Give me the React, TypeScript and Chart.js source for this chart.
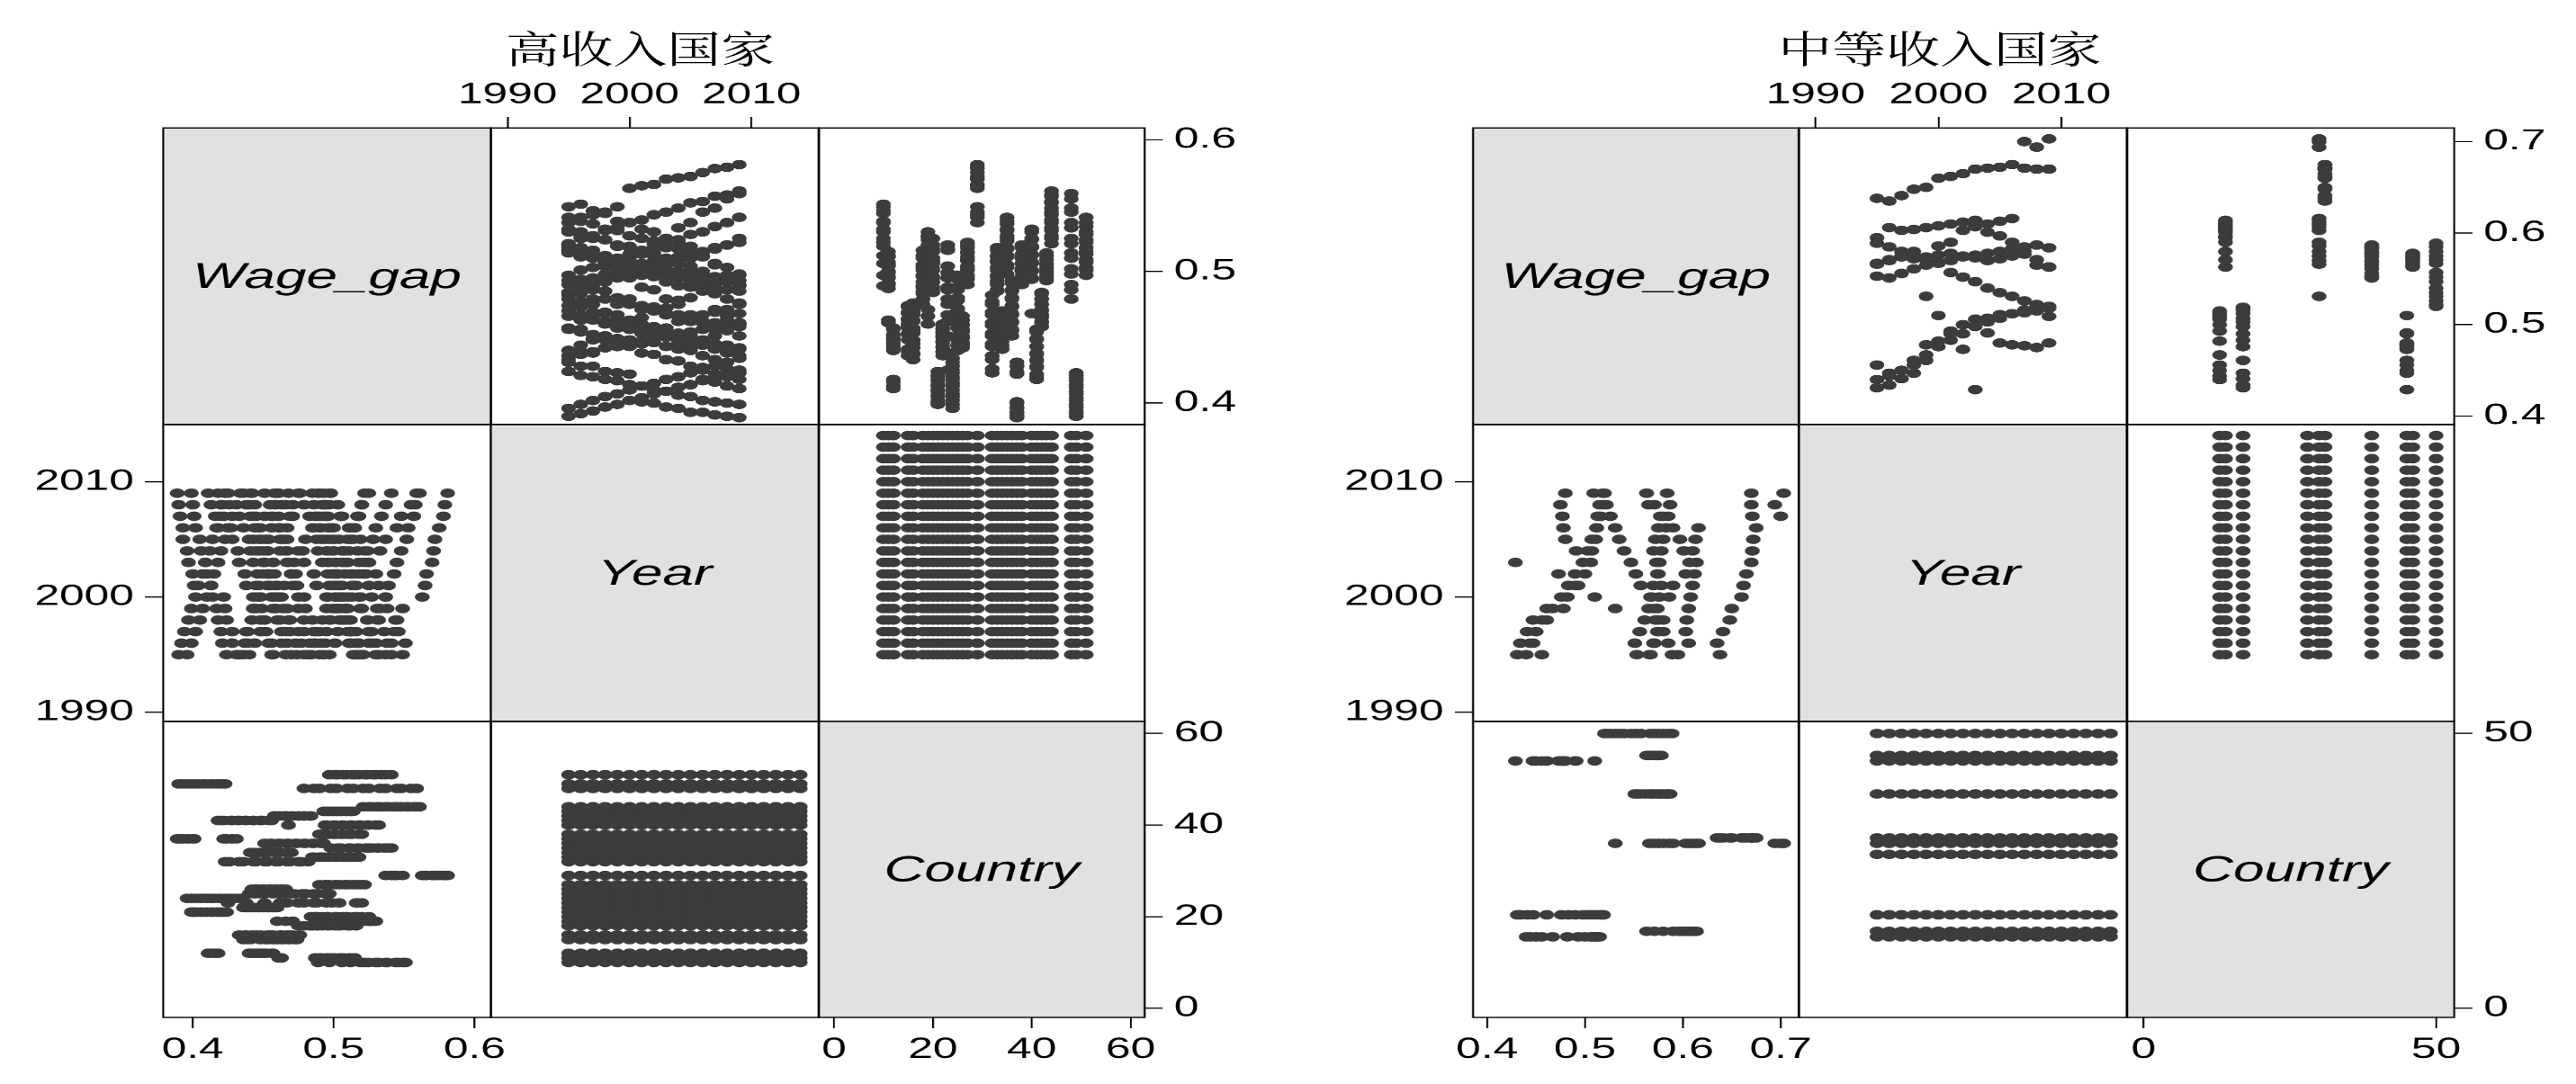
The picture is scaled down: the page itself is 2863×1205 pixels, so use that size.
import React, { useEffect, useRef } from 'react';
import { Chart, registerables } from 'chart.js';

Chart.register(...registerables);

// ---------- data ----------
const YEARS_ALL = [1995, 1996, 1997, 1998, 1999, 2000, 2001, 2002, 2003, 2004, 2005, 2006, 2007, 2008, 2009, 2010, 2011, 2012, 2013, 2014];
const WAGE_YEARS = [1995, 1996, 1997, 1998, 1999, 2000, 2001, 2002, 2003, 2004, 2005, 2006, 2007, 2008, 2009];

// 高收入国家 : country ids and wage gap per year (1995-2009)
const HI_IDS = [10, 11, 12, 15, 16, 18, 19, 20, 21, 22, 23, 24, 25, 26, 27, 29, 32, 33, 34, 35, 36, 37, 38, 40, 41, 42, 43, 44, 48, 49, 51];
const hi10 = [0.549, 0.551, 0.546, 0.544, 0.538, 0.537, 0.532, 0.53, 0.525, 0.522, 0.519, 0.512, 0.506, 0.497, 0.489];
const hi11 = [0.515, 0.511, 0.512, 0.507, 0.505, 0.504, 0.5, 0.499, 0.496, 0.495, 0.491, 0.49, 0.487, 0.463, 0.461];
const hi12 = [0.457, 0.456, 0.452, 0.451, 0.449, 0.448, 0.445, 0.446, 0.443, 0.441, 0.44, 0.418, 0.416, 0.413, 0.411];
const hi15 = [0.474, 0.473, 0.469, 0.468, 0.464, 0.463, 0.46, 0.458, 0.457, 0.453, 0.452, 0.448, 0.441, 0.439, 0.436];
const hi16 = [0.433, 0.437, 0.438, 0.442, 0.445, 0.448, 0.453, 0.455, 0.457, 0.462, 0.463, 0.467, 0.469, 0.471, 0.476];
const hi18 = [0.516, 0.512, 0.51, 0.505, 0.503, 0.501, 0.497, 0.496, 0.492, 0.489, 0.488, 0.485, 0.483, 0.479, 0.475];
const hi19 = [0.53, 0.527, 0.526, 0.524, 0.52, 0.519, 0.516, 0.514, 0.51, 0.507, 0.504, 0.498, 0.471, 0.466, 0.46];
const hi20 = [0.484, 0.487, 0.488, 0.492, 0.495, 0.496, 0.501, 0.502, 0.506, 0.508, 0.51, 0.515, 0.517, 0.52, 0.525];
const hi21 = [0.424, 0.421, 0.42, 0.418, 0.417, 0.414, 0.413, 0.41, 0.409, 0.406, 0.405, 0.402, 0.401, 0.4, 0.399];
const hi22 = [0.436, 0.439, 0.439, 0.442, 0.443, 0.446, 0.447, 0.45, 0.451, 0.453, 0.454, 0.456, 0.457, 0.459, 0.46];
const hi23 = [0.52, 0.517, 0.516, 0.504, 0.499, 0.495, 0.488, 0.486, 0.479, 0.475, 0.467, 0.462, 0.451, 0.438, 0.425];
const hi24 = [0.396, 0.399, 0.402, 0.405, 0.407, 0.41, 0.413, 0.415, 0.418, 0.42, 0.423, 0.425, 0.428, 0.431, 0.434];
const hi25 = [0.44, 0.444, 0.448, 0.451, 0.457, 0.461, 0.465, 0.47, 0.472, 0.478, 0.48, 0.486, 0.488, 0.494, 0.497];
const hi26 = [0.466, 0.463, 0.463, 0.46, 0.459, 0.456, 0.455, 0.454, 0.451, 0.45, 0.449, 0.446, 0.445, 0.444, 0.442];
const hi27 = [0.49, 0.494, 0.495, 0.497, 0.501, 0.502, 0.504, 0.508, 0.509, 0.511, 0.514, 0.515, 0.518, 0.52, 0.522];
const hi29 = [0.537, 0.541, 0.543, 0.545, 0.549, 0.563, 0.565, 0.566, 0.57, 0.571, 0.572, 0.575, 0.578, 0.579, 0.581];
const hi32 = [0.482, 0.477, 0.475, 0.469, 0.467, 0.461, 0.459, 0.453, 0.451, 0.445, 0.443, 0.436, 0.433, 0.426, 0.423];
const hi33 = [0.518, 0.516, 0.512, 0.511, 0.508, 0.507, 0.503, 0.501, 0.497, 0.496, 0.493, 0.491, 0.49, 0.486, 0.485];
const hi34 = [0.47, 0.467, 0.466, 0.462, 0.459, 0.458, 0.454, 0.453, 0.45, 0.447, 0.447, 0.444, 0.443, 0.441, 0.441];
const hi35 = [0.541, 0.538, 0.536, 0.532, 0.531, 0.527, 0.525, 0.523, 0.518, 0.517, 0.512, 0.511, 0.505, 0.503, 0.498];
const hi36 = [0.493, 0.491, 0.486, 0.485, 0.48, 0.479, 0.474, 0.473, 0.468, 0.467, 0.462, 0.461, 0.456, 0.455, 0.451];
const hi37 = [0.431, 0.428, 0.428, 0.424, 0.423, 0.422, 0.401, 0.4, 0.397, 0.396, 0.393, 0.393, 0.391, 0.39, 0.389];
const hi38 = [0.52, 0.518, 0.513, 0.512, 0.51, 0.506, 0.506, 0.502, 0.501, 0.5, 0.496, 0.496, 0.493, 0.492, 0.49];
const hi40 = [0.532, 0.53, 0.525, 0.524, 0.519, 0.518, 0.513, 0.512, 0.507, 0.506, 0.501, 0.5, 0.495, 0.494, 0.468];
const hi41 = [0.456, 0.454, 0.449, 0.448, 0.443, 0.443, 0.438, 0.437, 0.433, 0.432, 0.428, 0.427, 0.422, 0.42, 0.418];
const hi42 = [0.484, 0.483, 0.479, 0.479, 0.475, 0.475, 0.471, 0.47, 0.467, 0.466, 0.465, 0.462, 0.461, 0.458, 0.458];
const hi43 = [0.514, 0.512, 0.512, 0.509, 0.509, 0.506, 0.505, 0.503, 0.502, 0.5, 0.499, 0.497, 0.496, 0.494, 0.493];
const hi44 = [0.521, 0.525, 0.527, 0.531, 0.533, 0.537, 0.539, 0.543, 0.545, 0.548, 0.552, 0.553, 0.557, 0.558, 0.561];
const hi48 = [0.479, 0.486, 0.49, 0.498, 0.502, 0.51, 0.514, 0.521, 0.525, 0.533, 0.537, 0.545, 0.548, 0.555, 0.559];
const hi49 = [0.39, 0.392, 0.394, 0.397, 0.399, 0.402, 0.404, 0.407, 0.409, 0.412, 0.414, 0.417, 0.419, 0.421, 0.423];
const hi51 = [0.497, 0.501, 0.503, 0.507, 0.509, 0.513, 0.515, 0.518, 0.522, 0.524, 0.528, 0.53, 0.534, 0.537, 0.541];
const HI_GAPS = [hi10, hi11, hi12, hi15, hi16, hi18, hi19, hi20, hi21, hi22, hi23, hi24, hi25, hi26, hi27, hi29, hi32, hi33, hi34, hi35, hi36, hi37, hi38, hi40, hi41, hi42, hi43, hi44, hi48, hi49, hi51];

// 中等收入国家
const MID_IDS = [13, 14, 17, 28, 30, 31, 39, 45, 46, 50];
const mid13 = [0.44, 0.444, 0.45, 0.456, 0.467, 0.482, 0.493, 0.5, 0.506, 0.507, 0.511, 0.512, 0.513, 0.515, 0.509];
const mid14 = [0.595, 0.606, 0.603, 0.604, 0.606, 0.608, 0.61, 0.612, 0.614, 0.601, 0.597, 0.59, 0.58, 0.571, 0.563];
const mid17 = [0.431, 0.434, 0.441, 0.447, 0.461, 0.476, 0.483, 0.49, 0.498, 0.503, 0.507, 0.512, 0.516, 0.519, 0.518];
const mid28: number[] = [];
const mid30 = [0.566, 0.57, 0.575, 0.58, 0.531, 0.586, 0.59, 0.603, 0.607, 0.61, 0.613, 0.616, 0.7, 0.694, 0.703];
const mid31 = [0.638, 0.635, 0.641, 0.648, 0.65, 0.66, 0.662, 0.665, 0.67, 0.671, 0.672, 0.675, 0.671, 0.67, 0.67];
const mid39 = [0.553, 0.551, 0.556, 0.561, 0.565, 0.568, 0.57, 0.574, 0.576, 0.578, 0.58, 0.583, 0.585, 0.587, 0.584];
const mid45 = [0.456, 0.447, 0.45, 0.461, 0.478, 0.51, 0.49, 0.473, 0.429, 0.491, 0.48, 0.478, 0.477, 0.475, 0.48];
const mid46 = [0.567, 0.571, 0.574, 0.572, 0.574, 0.576, 0.578, 0.575, 0.573, 0.57, 0.572, 0.575, 0.577, 0.565, 0.563];
const mid50 = [0.589, 0.585, 0.58, 0.575, 0.571, 0.567, 0.557, 0.552, 0.547, 0.54, 0.535, 0.531, 0.526, 0.522, 0.52];
const MID_GAPS = [mid13, mid14, mid17, mid28, mid30, mid31, mid39, mid45, mid46, mid50];

const VAR_LABELS = ['Wage_gap', 'Year', 'Country'];
const TITLE_HI = '高收入国家';
const TITLE_MID = '中等收入国家';

// axis limits [wage, year, country]
const HI_XR: [number, number][] = [[0.379, 0.6117], [1988.63, 2015.51], [-3.04, 62.84]];
const HI_YR: [number, number][] = [[0.3838, 0.6089], [1989.21, 2014.95], [-2.0, 62.63]];
const MID_XR: [number, number][] = [[0.3857, 0.7184], [1988.66, 2015.33], [-2.81, 53.09]];
const MID_YR: [number, number][] = [[0.391, 0.715], [1989.21, 2014.95], [-1.67, 52.19]];
const HI_STEPS = [0.1, 10, 20];
const MID_STEPS = [0.1, 10, 50];

// ---------- layout (page pixels) ----------
const S = 1.55; // horizontal stretch of the whole figure
const PAGE_W = 2863;
const PAGE_H = 1205;
const HI_COLS = [181, 545.5, 910, 1272.5];
const MID_COLS = [1637.4, 1999, 2364.3, 2727.8];
const ROWS = [142, 471.5, 801.5, 1131];
const MH = 110; // logical side margin of each panel canvas
const MV = 80;
const FONT = '"Liberation Sans", Arial, Helvetica, sans-serif';
const DOT = '#3d3b3c';

type Spec = {
  ids: number[];
  gaps: number[][];
  xr: [number, number][];
  yr: [number, number][];
  steps: number[];
  cols: number[];
};

function buildPoints(spec: Spec, xv: number, yv: number) {
  const pts: { x: number; y: number }[] = [];
  const useWage = xv === 0 || yv === 0;
  spec.ids.forEach((id, i) => {
    if (useWage) {
      spec.gaps[i].forEach((w, k) => {
        if (w == null) return;
        const vals = [w, WAGE_YEARS[k], id];
        pts.push({ x: vals[xv], y: vals[yv] });
      });
    } else {
      YEARS_ALL.forEach((yr) => {
        const vals = [0, yr, id];
        pts.push({ x: vals[xv], y: vals[yv] });
      });
    }
  });
  return pts;
}

const fmt = (v: number, varIdx: number) => (varIdx === 0 ? Number(v).toFixed(1) : String(Math.round(v)));

const panelPlugin = {
  id: 'panelFrame',
  beforeDraw(chart: any, _args: any, opts: any) {
    const { left, top, width, height } = chart.chartArea;
    const ctx = chart.ctx;
    if (opts.diag) {
      ctx.save();
      ctx.fillStyle = '#e1e1e1';
      ctx.fillRect(left, top, width, height);
      ctx.fillStyle = '#000';
      ctx.font = `italic 40px ${FONT}`;
      ctx.textAlign = 'center';
      ctx.textBaseline = 'middle';
      ctx.fillText(opts.label, left + width / 2, top + height / 2 + 2);
      ctx.restore();
    }
  },
  afterDraw(chart: any) {
    const { left, top, width, height } = chart.chartArea;
    const ctx = chart.ctx;
    ctx.save();
    ctx.strokeStyle = '#000';
    ctx.lineWidth = 1.4;
    ctx.strokeRect(left, top, width, height);
    ctx.restore();
  },
};

function axis(kind: 'x' | 'y', position: string, shown: boolean, range: [number, number], step: number, varIdx: number) {
  return {
    type: 'linear',
    position,
    display: shown,
    min: range[0],
    max: range[1],
    afterFit: (s: any) => {
      if (!shown) return;
      if (kind === 'x') s.height = MV;
      else s.width = MH;
    },
    grid: {
      display: true,
      drawOnChartArea: false,
      drawTicks: true,
      tickLength: kind === 'x' ? 12 : 13,
      color: '#000',
      lineWidth: 1.3,
    },
    border: { display: false },
    ticks: {
      stepSize: step,
      includeBounds: false,
      autoSkip: false,
      maxRotation: 0,
      minRotation: 0,
      padding: kind === 'x' ? 5 : 8,
      color: '#000',
      font: { size: 32, family: FONT },
      callback: (v: any) => fmt(v, varIdx),
    },
  };
}

function Panel({ spec, r, c }: { spec: Spec; r: number; c: number }) {
  const ref = useRef<HTMLCanvasElement>(null);
  const diag = r === c;
  const showTop = r === 0 && c === 1;
  const showBottom = r === 2 && (c === 0 || c === 2);
  const showLeft = r === 1 && c === 0;
  const showRight = c === 2 && (r === 0 || r === 2);

  const pl = spec.cols[c] / S;
  const pr = spec.cols[c + 1] / S;
  const pt = ROWS[r];
  const pb = ROWS[r + 1];
  const w = pr - pl + 2 * MH;
  const h = pb - pt + 2 * MV;

  useEffect(() => {
    if (!ref.current) return;
    const data = diag ? [] : buildPoints(spec, c, r);
    const chart = new Chart(ref.current, {
      type: 'scatter',
      data: {
        datasets: [
          {
            data,
            pointStyle: 'circle',
            pointRadius: 5.3,
            pointBorderWidth: 0,
            pointBackgroundColor: DOT,
            pointBorderColor: DOT,
          },
        ],
      },
      options: {
        responsive: false,
        animation: false,
        devicePixelRatio: 2,
        events: [],
        layout: {
          padding: {
            top: showTop ? 0 : MV,
            bottom: showBottom ? 0 : MV,
            left: showLeft ? 0 : MH,
            right: showRight ? 0 : MH,
          },
        },
        scales: {
          x: axis('x', showTop ? 'top' : 'bottom', showTop || showBottom, spec.xr[c], spec.steps[c], c),
          y: axis('y', showLeft ? 'left' : 'right', showLeft || showRight, spec.yr[r], spec.steps[r], r),
        } as any,
        plugins: {
          legend: { display: false },
          tooltip: { enabled: false },
          panelFrame: { diag, label: VAR_LABELS[r] },
        } as any,
      },
      plugins: [panelPlugin],
    } as any);
    return () => chart.destroy();
  }, []);

  return (
    <canvas
      ref={ref}
      width={w}
      height={h}
      style={{ position: 'absolute', left: pl - MH, top: pt - MV, width: w, height: h }}
    />
  );
}

function Matrix({ spec, title, titleCx }: { spec: Spec; title: string; titleCx: number }) {
  const panels = [];
  for (let r = 0; r < 3; r++) for (let c = 0; c < 3; c++) panels.push(<Panel key={`${r}-${c}`} spec={spec} r={r} c={c} />);
  return (
    <>
      <div
        style={{
          position: 'absolute',
          left: titleCx / S - 200,
          top: 29,
          width: 400,
          textAlign: 'center',
          fontFamily: '"Noto Serif CJK SC", "Noto Sans CJK SC", serif',
          fontSize: 42,
          lineHeight: '46px',
          color: '#000',
          transform: 'scaleX(0.92)',
          whiteSpace: 'nowrap',
        }}
      >
        {title}
      </div>
      {panels}
    </>
  );
}

export default function App() {
  const hi: Spec = { ids: HI_IDS, gaps: HI_GAPS, xr: HI_XR, yr: HI_YR, steps: HI_STEPS, cols: HI_COLS };
  const mid: Spec = { ids: MID_IDS, gaps: MID_GAPS, xr: MID_XR, yr: MID_YR, steps: MID_STEPS, cols: MID_COLS };
  return (
    <div
      style={{
        position: 'fixed',
        left: 0,
        top: 0,
        width: PAGE_W / S,
        height: PAGE_H,
        overflow: 'hidden',
        background: '#fff',
        transform: `scaleX(${S})`,
        transformOrigin: '0 0',
      }}
    >
      <Matrix spec={hi} title={TITLE_HI} titleCx={711} />
      <Matrix spec={mid} title={TITLE_MID} titleCx={2156} />
    </div>
  );
}
